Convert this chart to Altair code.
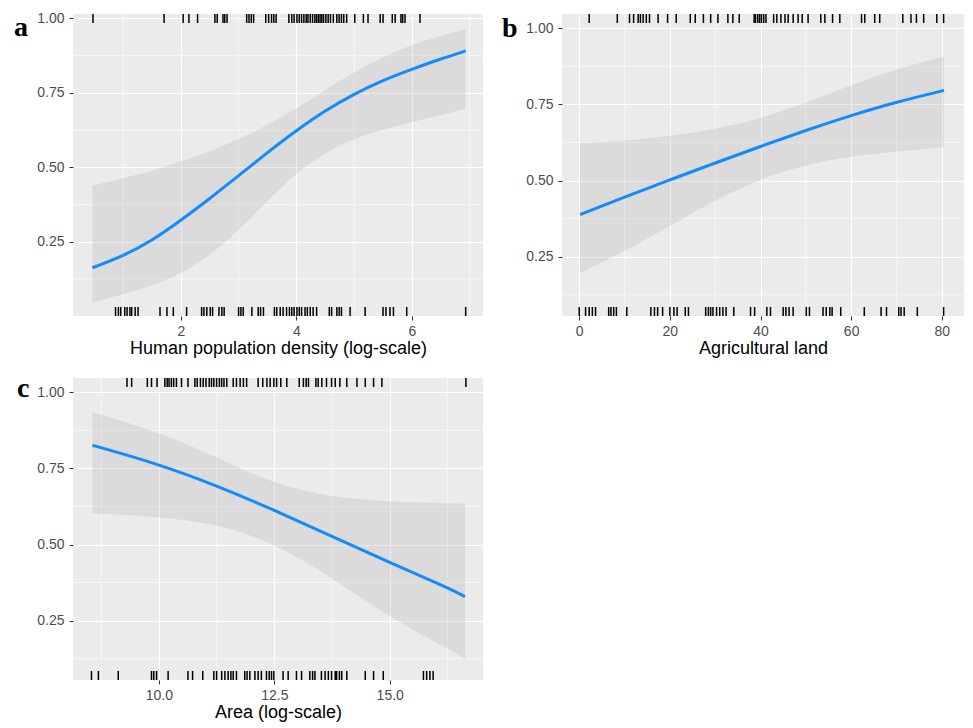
import altair as alt
import pandas as pd

# ---------------- Panel a : human population density ----------------
A_X = [0.47, 1.0, 1.52, 2.0, 2.5, 3.0, 3.5, 4.0, 4.5, 5.0, 5.5, 6.0, 6.48, 6.93]
A_FIT = [0.163, 0.202, 0.256, 0.322, 0.395, 0.472, 0.550, 0.624, 0.691, 0.747, 0.793, 0.830, 0.863, 0.891]
A_LO = [0.047, 0.074, 0.103, 0.143, 0.203, 0.288, 0.388, 0.482, 0.550, 0.597, 0.627, 0.652, 0.674, 0.697]
A_HI = [0.439, 0.463, 0.489, 0.519, 0.553, 0.594, 0.642, 0.697, 0.760, 0.821, 0.872, 0.912, 0.941, 0.963]
A_RUG_TOP = [0.48, 1.71, 2.04, 2.14, 2.29, 2.59, 2.63, 2.73, 2.76, 2.80, 3.14, 3.18, 3.22, 3.26,
             3.47, 3.52, 3.57, 3.61, 3.65, 3.87, 3.92, 3.96, 4.01, 4.05, 4.09, 4.13, 4.17, 4.20,
             4.24, 4.28, 4.32, 4.35, 4.38, 4.41, 4.44, 4.47, 4.51, 4.55, 4.59, 4.64, 4.70, 4.74,
             4.78, 4.82, 4.87, 5.01, 5.16, 5.24, 5.45, 5.50, 5.66, 5.71, 5.81, 5.84, 5.88, 6.14]
A_RUG_BOTTOM = [0.87, 0.92, 0.96, 1.03, 1.07, 1.12, 1.15, 1.21, 1.26, 1.64, 1.76, 1.87, 2.10,
                2.36, 2.40, 2.45, 2.51, 2.55, 2.66, 2.71, 2.75, 3.00, 3.04, 3.08, 3.23, 3.34,
                3.38, 3.43, 3.62, 3.66, 3.72, 3.77, 3.83, 3.88, 3.92, 3.96, 4.01, 4.05, 4.09,
                4.15, 4.19, 4.24, 4.29, 4.35, 4.57, 4.61, 4.70, 4.74, 4.78, 4.93, 5.19, 5.50,
                5.55, 5.62, 5.68, 5.91, 6.93]
A_XTICKS = [2, 4, 6]
A_XMINOR = [1, 3, 5, 7]

# ---------------- Panel b : agricultural land ----------------
B_X = [0.2, 10, 20, 30, 40, 50, 60, 70, 80.5]
B_FIT = [0.388, 0.446, 0.502, 0.558, 0.612, 0.665, 0.714, 0.758, 0.796]
B_LO = [0.196, 0.268, 0.350, 0.436, 0.506, 0.552, 0.580, 0.596, 0.609]
B_HI = [0.623, 0.630, 0.646, 0.668, 0.703, 0.755, 0.814, 0.867, 0.908]
B_RUG_TOP = [2.2, 8.4, 11.1, 12.0, 13.0, 13.5, 14.1, 14.8, 15.5, 17.4, 19.5, 21.4, 24.5, 25.6,
             27.4, 29.0, 30.6, 32.8, 33.9, 35.3, 38.6, 38.9, 39.4, 39.8, 40.2, 40.7, 41.2,
             42.9, 43.6, 44.5, 45.4, 46.1, 47.2, 48.3, 49.2, 50.5, 53.3, 54.2, 55.9, 57.5,
             62.3, 63.0, 65.2, 66.3, 71.4, 73.2, 74.4, 76.0, 78.9, 80.4]
B_RUG_BOTTOM = [0.0, 1.4, 2.2, 2.9, 3.6, 6.5, 7.0, 7.6, 8.2, 10.5, 15.8, 16.6, 17.3, 18.4, 20.0,
                20.9, 21.6, 23.4, 24.1, 27.9, 28.5, 29.0, 29.5, 30.3, 31.0, 31.7, 32.4, 34.1,
                37.8, 38.7, 41.4, 42.2, 45.0, 45.6, 46.3, 47.2, 50.1, 50.8, 53.8, 54.5, 55.3,
                55.8, 57.7, 62.9, 66.6, 67.8, 70.5, 71.0, 71.7, 74.6, 80.4]
B_XTICKS = [0, 20, 40, 60, 80]
B_XMINOR = [10, 30, 50, 70]

# ---------------- Panel c : area ----------------
C_X = [8.56, 10.0, 11.25, 12.5, 13.75, 15.0, 16.25, 16.63]
C_FIT = [0.826, 0.764, 0.694, 0.613, 0.527, 0.440, 0.359, 0.329]
C_LO = [0.603, 0.592, 0.569, 0.505, 0.391, 0.261, 0.158, 0.125]
C_HI = [0.935, 0.870, 0.787, 0.697, 0.655, 0.641, 0.636, 0.634]
C_RUG_TOP = [9.31, 9.41, 9.75, 9.84, 9.96, 10.13, 10.18, 10.22, 10.27, 10.32, 10.38, 10.49,
             10.63, 10.78, 10.83, 10.90, 10.96, 11.02, 11.09, 11.14, 11.19, 11.25, 11.31,
             11.36, 11.41, 11.47, 11.61, 11.68, 11.76, 11.83, 11.90, 12.15, 12.25, 12.34,
             12.41, 12.49, 12.55, 12.64, 12.77, 13.04, 13.13, 13.19, 13.24, 13.40, 13.45,
             13.53, 13.63, 13.74, 13.82, 13.92, 14.07, 14.29, 14.47, 14.65, 14.83, 16.65]
C_RUG_BOTTOM = [8.54, 8.69, 9.12, 9.84, 9.89, 9.95, 10.20, 10.63, 10.73, 10.95, 11.19, 11.25,
                11.36, 11.43, 11.50, 11.56, 11.61, 11.68, 11.86, 11.91, 11.97, 12.08, 12.15,
                12.22, 12.33, 12.39, 12.44, 12.49, 12.69, 12.80, 12.98, 13.09, 13.27, 13.33,
                13.38, 13.52, 13.60, 13.67, 13.74, 13.82, 13.85, 13.91, 13.96, 14.07, 14.47,
                14.65, 14.86, 15.73, 15.80, 15.87, 15.94]
C_XTICKS = [10.0, 12.5, 15.0]
C_XMINOR = [8.75, 11.25, 13.75, 16.25]

Y_TICKS = [0.25, 0.50, 0.75, 1.00]
Y_MINOR = [0.125, 0.375, 0.625, 0.875]

H = 302
RUG = 9
BLUE = "#148BFA"


def panel(width, xdom, ydom, xs, fit, lo, hi, rug_top, rug_bottom, xticks, xminor, xfmt,
          xtitle, label, lx, ly):
    xscale = alt.Scale(domain=xdom, nice=False, zero=False)
    yscale = alt.Scale(domain=ydom, nice=False, zero=False)
    xaxis = alt.Axis(values=xticks, format=xfmt, title=xtitle, labelFlush=False)
    yaxis = alt.Axis(values=Y_TICKS, format=".2f", title=None, labelFlush=False)

    def X(f):
        return alt.X(f"{f}:Q", scale=xscale, axis=xaxis)

    def Y(f):
        return alt.Y(f"{f}:Q", scale=yscale, axis=yaxis)

    curve = pd.DataFrame({"x": xs, "fit": fit, "lo": lo, "hi": hi})

    minor_x = alt.Chart(pd.DataFrame({"x": xminor})).mark_rule(
        color="white", strokeWidth=0.55).encode(x=X("x"))
    minor_y = alt.Chart(pd.DataFrame({"y": Y_MINOR})).mark_rule(
        color="white", strokeWidth=0.55).encode(y=Y("y"))
    band = alt.Chart(curve).mark_area(
        color="#999999", opacity=0.2, interpolate="basis").encode(
        x=X("x"), y=Y("lo"), y2="hi:Q")
    line = alt.Chart(curve).mark_line(
        color=BLUE, strokeWidth=3, interpolate="basis").encode(x=X("x"), y=Y("fit"))
    rt = alt.Chart(pd.DataFrame({"x": rug_top})).mark_rule(
        color="black", strokeWidth=1.5).encode(
        x=X("x"), y=alt.value(0), y2=alt.value(RUG))
    rb = alt.Chart(pd.DataFrame({"x": rug_bottom})).mark_rule(
        color="black", strokeWidth=1.5).encode(
        x=X("x"), y=alt.value(H - RUG), y2=alt.value(H))
    tag = alt.Chart(pd.DataFrame({"t": [label]})).mark_text(
        font="Liberation Serif", fontWeight="bold", fontSize=28, align="left",
        baseline="alphabetic", color="black").encode(
        text="t:N", x=alt.value(lx), y=alt.value(ly))
    return alt.layer(minor_x, minor_y, band, line, rt, rb, tag).properties(
        width=width, height=H)


pa = panel(410, [0.134, 7.23], [0.001, 1.015], A_X, A_FIT, A_LO, A_HI, A_RUG_TOP,
           A_RUG_BOTTOM, A_XTICKS, A_XMINOR, "d", "Human population density (log-scale)",
           "a", -59, 21.5)
pb = panel(402, [-3.8, 84.9], [0.055, 1.047], B_X, B_FIT, B_LO, B_HI, B_RUG_TOP,
           B_RUG_BOTTOM, B_XTICKS, B_XMINOR, "d", "Agricultural land", "b", -60, 23)
pc = panel(410, [8.14, 17.02], [0.055, 1.047], C_X, C_FIT, C_LO, C_HI, C_RUG_TOP,
           C_RUG_BOTTOM, C_XTICKS, C_XMINOR, ".1f", "Area (log-scale)", "c", -56, 19)

chart = alt.concat(
    pa, pb, pc, columns=2, spacing={"row": 62, "column": 79}, bounds="flush"
).properties(
    padding={"left": 6, "top": 3, "right": 0, "bottom": 0}
).configure_view(
    fill="#EBEBEB", strokeWidth=0
).configure_axis(
    labelFont="Liberation Sans", labelFontSize=14, labelColor="#4D4D4D",
    tickColor="#333333", tickWidth=1.07, tickSize=4, domain=False,
    gridColor="white", gridWidth=1.1,
    titleFont="Liberation Sans", titleFontSize=18, titleColor="black",
    titleFontWeight="normal"
).configure_axisX(
    labelPadding=4, titlePadding=1.5
).configure_axisY(
    labelPadding=5
)

chart.save("out.html", embed_options={"renderer": "svg", "actions": False})
